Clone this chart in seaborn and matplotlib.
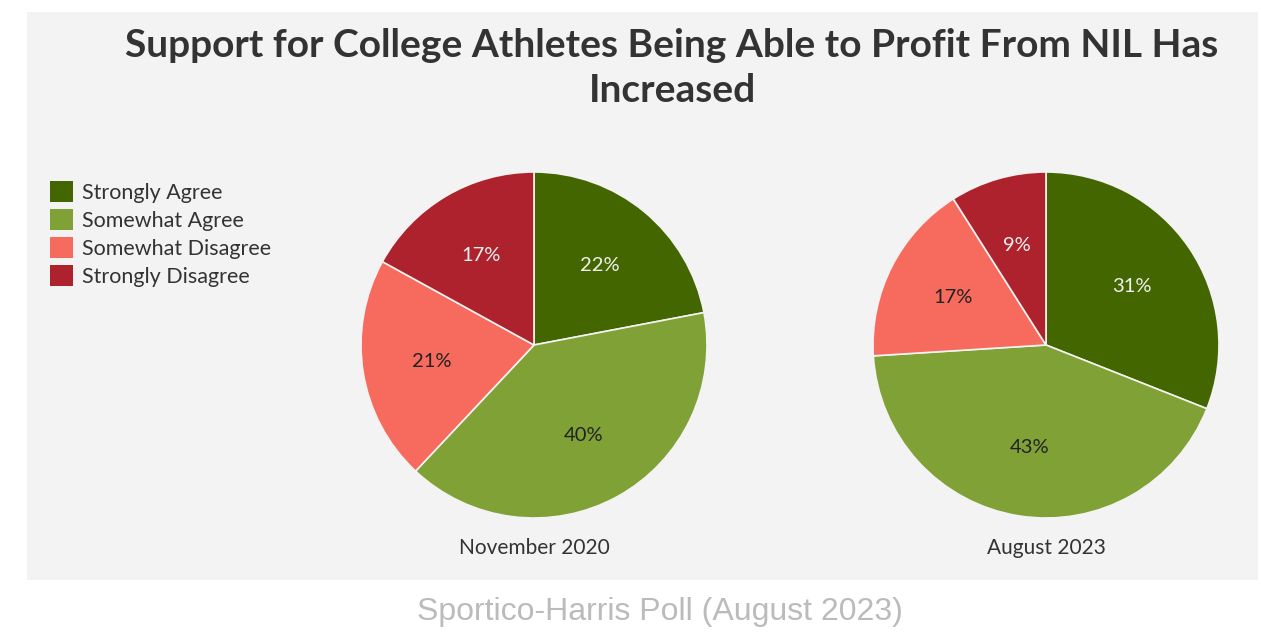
import matplotlib
matplotlib.use("Agg")
import matplotlib.pyplot as plt
from matplotlib.patches import Rectangle, Patch
import seaborn as sns

categories = ["Strongly Agree", "Somewhat Agree", "Somewhat Disagree", "Strongly Disagree"]
nov_2020 = [22, 40, 21, 17]
aug_2023 = [31, 43, 17, 9]
panel_titles = ["November 2020", "August 2023"]
title = "Support for College Athletes Being Able to Profit From NIL Has\nIncreased"
source = "Sportico-Harris Poll (August 2023)"

colors = ["#446600", "#7fa136", "#f76b5e", "#ad222c"]
label_colors = ["#f0f0f0", "#222222", "#222222", "#f0f0f0"]

sns.set_theme(style="white")
plt.rcParams["font.family"] = ["Lato", "DejaVu Sans"]

fig = plt.figure(figsize=(12.61, 6.32), dpi=100)
fig.patch.set_facecolor("white")
W, H = 1261, 632

# gray panel
fig.patches.append(Rectangle((27 / W, 1 - 580 / H), (1258 - 27) / W, (580 - 12) / H,
                             transform=fig.transFigure, facecolor="#f3f3f3",
                             edgecolor="none", zorder=-5))

fig.text(672 / W, 1 - 68 / H, title, ha="center", va="center", fontsize=28,
         fontweight="bold", color="#333333", linespacing=1.32)

r = 173
for cx, data, ptitle in [(534, nov_2020, panel_titles[0]), (1046, aug_2023, panel_titles[1])]:
    cy = 345
    ax = fig.add_axes([(cx - r) / W, 1 - (cy + r) / H, 2 * r / W, 2 * r / H])
    ax.set_facecolor("none")
    ax.set_zorder(2)
    wedges, texts = ax.pie(data, colors=colors, startangle=90, counterclock=False,
                           labels=[f"{v}%" for v in data], labeldistance=0.6,
                           wedgeprops=dict(edgecolor="#f3f3f3", linewidth=1.2))
    for t, c in zip(texts, label_colors):
        t.set_color(c)
        t.set_fontsize(14.5)
        t.set_ha("center")
        t.set_va("center")
    ax.set_xlim(-1, 1)
    ax.set_ylim(-1, 1)
    ax.set_aspect("equal")
    ax.axis("off")
    fig.text(cx / W, 1 - 548 / H, ptitle, ha="center", va="center", fontsize=15,
             color="#333333")

handles = [Patch(facecolor=c, edgecolor="none", label=l) for c, l in zip(colors, categories)]
fig.legend(handles=handles, loc="upper left", bbox_to_anchor=(50 / W, 1 - 181 / H),
           frameon=False, fontsize=15.5, handlelength=1.07, handleheight=1.1,
           handletextpad=0.42, labelspacing=0.3, labelcolor="#333333",
           borderpad=0, borderaxespad=0)

fig.text(660 / W, 1 - 612 / H, source, ha="center", va="center", fontsize=23,
         color="#bbbbbb", family=["Liberation Sans", "DejaVu Sans"])

fig.savefig("out.png", dpi=100, facecolor="white")
